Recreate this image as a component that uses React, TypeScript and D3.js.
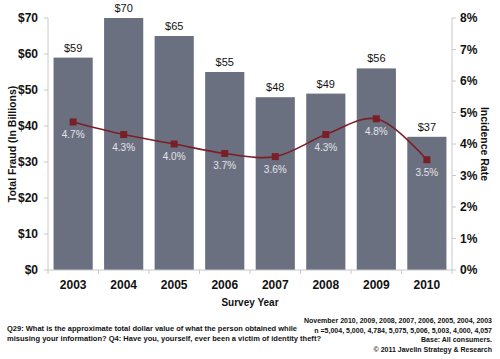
import React from 'react';
import * as d3 from 'd3';

const years = ['2003', '2004', '2005', '2006', '2007', '2008', '2009', '2010'];
const fraudBillions = [59, 70, 65, 55, 48, 49, 56, 37];
const incidenceRate = [4.7, 4.3, 4.0, 3.7, 3.6, 4.3, 4.8, 3.5];
const leftTicks = [0, 10, 20, 30, 40, 50, 60, 70];
const rightTicks = [0, 1, 2, 3, 4, 5, 6, 7, 8];
const footLeft = [
  'Q29: What is the approximate total dollar value of what the person obtained while',
  'misusing your information?  Q4: Have you, yourself, ever been a victim of identity theft?',
];
const footRight = [
  'November 2010, 2009, 2008, 2007, 2006, 2005, 2004, 2003',
  'n =5,004, 5,000, 4,784, 5,075, 5,006, 5,003, 4,000, 4,057',
  'Base: All consumers.',
  '\u00A9 2011 Javelin Strategy & Research',
];

const W = 500;
const H = 359;
const plot = { left: 48, right: 452, top: 18, bottom: 270 };
const font = '"Liberation Sans", Arial, sans-serif';

const App = () => {
  const x = d3.scaleBand().domain(years).range([plot.left, plot.right]).paddingInner(0.225).paddingOuter(0.11);
  const yL = d3.scaleLinear().domain([0, 70]).range([plot.bottom, plot.top]);
  const yR = d3.scaleLinear().domain([0, 8]).range([plot.bottom, plot.top]);

  const step = (plot.right - plot.left) / years.length;
  const cx = (d: string) => (x(d) ?? 0) + x.bandwidth() / 2;

  const line = d3.line<number>()
    .x((_, i) => cx(years[i]))
    .y((d) => yR(d))
    .curve(d3.curveCatmullRom.alpha(0.5));

  return (
    <svg width={W} height={H} style={{ position: 'absolute', left: 0, top: 0, background: '#fff' }} fontFamily={font}>
      {/* bars */}
      {years.map((yr, i) => (
        <g key={yr}>
          <rect x={x(yr)} y={yL(fraudBillions[i])} width={x.bandwidth()} height={plot.bottom - yL(fraudBillions[i])} fill="#6b7080" />
          <text x={cx(yr)} y={yL(fraudBillions[i]) - 6} textAnchor="middle" fontSize={11} fill="#111">
            ${fraudBillions[i]}
          </text>
        </g>
      ))}

      {/* left axis */}
      <line x1={plot.left} x2={plot.left} y1={plot.top} y2={plot.bottom} stroke="#c8c8c8" />
      {leftTicks.map((t) => (
        <g key={t}>
          <line x1={plot.left - 4} x2={plot.left} y1={yL(t)} y2={yL(t)} stroke="#c8c8c8" />
          <text x={plot.left - 10} y={yL(t)} dy="0.35em" textAnchor="end" fontSize={12} fontWeight="bold" fill="#111">
            ${t}
          </text>
        </g>
      ))}

      {/* right axis */}
      <line x1={plot.right} x2={plot.right} y1={plot.top} y2={plot.bottom} stroke="#c8c8c8" />
      {rightTicks.map((t) => (
        <g key={t}>
          <line x1={plot.right} x2={plot.right + 4} y1={yR(t)} y2={yR(t)} stroke="#c8c8c8" />
          <text x={plot.right + 8} y={yR(t)} dy="0.35em" fontSize={12} fontWeight="bold" fill="#111">
            {t}%
          </text>
        </g>
      ))}

      {/* x axis */}
      <line x1={plot.left} x2={plot.right} y1={plot.bottom} y2={plot.bottom} stroke="#c8c8c8" />
      {d3.range(years.length + 1).map((i) => (
        <line key={i} x1={plot.left + i * step} x2={plot.left + i * step} y1={plot.bottom} y2={plot.bottom + 4} stroke="#c8c8c8" />
      ))}
      {years.map((yr) => (
        <text key={yr} x={cx(yr)} y={plot.bottom + 19} textAnchor="middle" fontSize={12} fontWeight="bold" fill="#111">
          {yr}
        </text>
      ))}

      {/* incidence line */}
      <path d={line(incidenceRate) ?? ''} fill="none" stroke="#7b1f26" strokeWidth={1.6} />
      {incidenceRate.map((v, i) => (
        <g key={i}>
          <rect x={cx(years[i]) - 3.5} y={yR(v) - 3.5} width={7} height={7} fill="#7b1f26" />
          <text x={cx(years[i])} y={yR(v) + 16} textAnchor="middle" fontSize={10} fill="#e4e4e8">
            {v.toFixed(1)}%
          </text>
        </g>
      ))}

      {/* axis titles */}
      <text transform={`translate(16,${(plot.top + plot.bottom) / 2}) rotate(-90)`} textAnchor="middle" fontSize={10.5} fontWeight="bold" fill="#111">
        Total Fraud (In Billions)
      </text>
      <text transform={`translate(481,${(plot.top + plot.bottom) / 2}) rotate(90)`} textAnchor="middle" fontSize={10.5} fontWeight="bold" fill="#111">
        Incidence Rate
      </text>
      <text x={250} y={306} textAnchor="middle" fontSize={10} fontWeight="bold" fill="#111">
        Survey Year
      </text>

      {/* footnotes */}
      <text x={7} y={331} fontSize={7.5} fontWeight="bold" fill="#111" textLength={290} lengthAdjust="spacingAndGlyphs">
        {footLeft[0]}
      </text>
      <text x={7} y={341} fontSize={7.5} fontWeight="bold" fill="#111" textLength={314} lengthAdjust="spacingAndGlyphs">
        {footLeft[1]}
      </text>
      {footRight.map((s, i) => (
        <text key={i} x={492} y={323 + i * 9.7} textAnchor="end" fontSize={7} fontWeight="bold" fill="#111">
          {s}
        </text>
      ))}
    </svg>
  );
};

export default App;
